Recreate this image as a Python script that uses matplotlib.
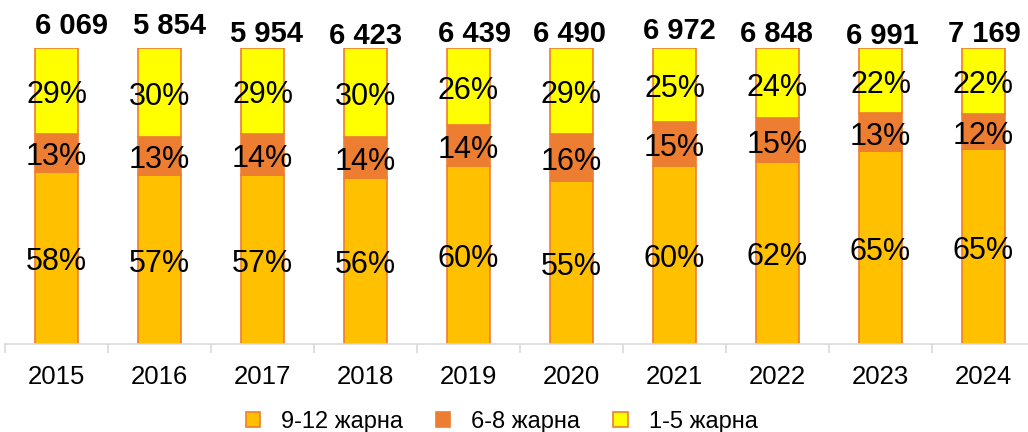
import matplotlib.pyplot as plt
import numpy as np
from matplotlib.patches import Patch

plt.rcParams['font.family'] = ['Liberation Sans', 'DejaVu Sans']

years = ['2015', '2016', '2017', '2018', '2019', '2020', '2021', '2022', '2023', '2024']
grp_9_12 = [58, 57, 57, 56, 60, 55, 60, 62, 65, 65]
grp_6_8 = [13, 13, 14, 14, 14, 16, 15, 15, 13, 12]
grp_1_5 = [29, 30, 29, 30, 26, 29, 25, 24, 22, 22]
totals = ['6 069', '5 854', '5 954', '6 423', '6 439', '6 490', '6 972', '6 848', '6 991', '7 169']
# the total labels were placed by hand in the original: small x shift and staggered height
total_dx = [0.146, 0.097, 0.039, 0.0, 0.058, -0.02, 0.049, -0.01, 0.02, 0.01]
total_y = [109.1, 108.8, 106.4, 105.4, 106.4, 106.4, 107.1, 106.1, 105.7, 106.4]

c_9_12 = '#FFC000'
c_6_8 = '#ED7D31'
c_1_5 = '#FFFF00'
edge = '#ED7D31'

fig = plt.figure(figsize=(10.28, 4.32), dpi=100)
ax = fig.add_axes([5 / 1028, 1 - 343.5 / 432, 1030 / 1028, 295.5 / 432])

x = np.arange(len(years))
w = 0.41
# 100% stacked: scale each column so that it fills the whole height
s = np.array(grp_9_12) + np.array(grp_6_8) + np.array(grp_1_5)
h1 = np.array(grp_9_12) * 100.0 / s
h2 = np.array(grp_6_8) * 100.0 / s
h3 = np.array(grp_1_5) * 100.0 / s
ax.bar(x, h1, w, color=c_9_12, edgecolor=edge, linewidth=1.2)
ax.bar(x, h2, w, bottom=h1, color=c_6_8, edgecolor=edge, linewidth=1.2)
ax.bar(x, h3, w, bottom=h1 + h2, color=c_1_5, edgecolor=edge, linewidth=1.2)


def label(xx, yy, txt, **kw):
    ax.annotate(txt, (xx, yy), xytext=(0, -3.2), textcoords='offset points',
                ha='center', va='center', annotation_clip=False, **kw)


for i in range(len(years)):
    label(x[i], h1[i] / 2, '%d%%' % grp_9_12[i], fontsize=22)
    label(x[i], h1[i] + h2[i] / 2, '%d%%' % grp_6_8[i], fontsize=22)
    label(x[i], h1[i] + h2[i] + h3[i] / 2, '%d%%' % grp_1_5[i], fontsize=22)
    label(x[i] + total_dx[i], total_y[i], totals[i], fontsize=21, fontweight='bold')

ax.set_xlim(-0.5, len(years) - 0.5)
ax.set_ylim(0, 100)
ax.set_xticks(x)
ax.set_xticklabels(years, fontsize=18.5)
ax.set_xticks(np.arange(-0.5, len(years), 1), minor=True)
ax.tick_params(axis='x', which='major', length=0, pad=15.5)
ax.tick_params(axis='x', which='minor', length=6.5, color='#d9d9d9', width=1.2)
ax.set_yticks([])
for sp in ['top', 'right', 'left']:
    ax.spines[sp].set_visible(False)
ax.spines['bottom'].set_color('#d9d9d9')
ax.spines['bottom'].set_linewidth(1.2)

handles = [Patch(facecolor=c_9_12, edgecolor=edge, linewidth=1.2),
           Patch(facecolor=c_6_8, edgecolor=edge, linewidth=1.2),
           Patch(facecolor=c_1_5, edgecolor=edge, linewidth=1.2)]
fig.legend(handles, ['9-12 жарна', '6-8 жарна', '1-5 жарна'], loc='center',
           bbox_to_anchor=(0.488, 1 - 422 / 432), ncol=3, frameon=False, fontsize=17,
           handlelength=0.6, handleheight=0.6, handletextpad=0.9, columnspacing=1.4)

plt.savefig('out.png', dpi=100)
